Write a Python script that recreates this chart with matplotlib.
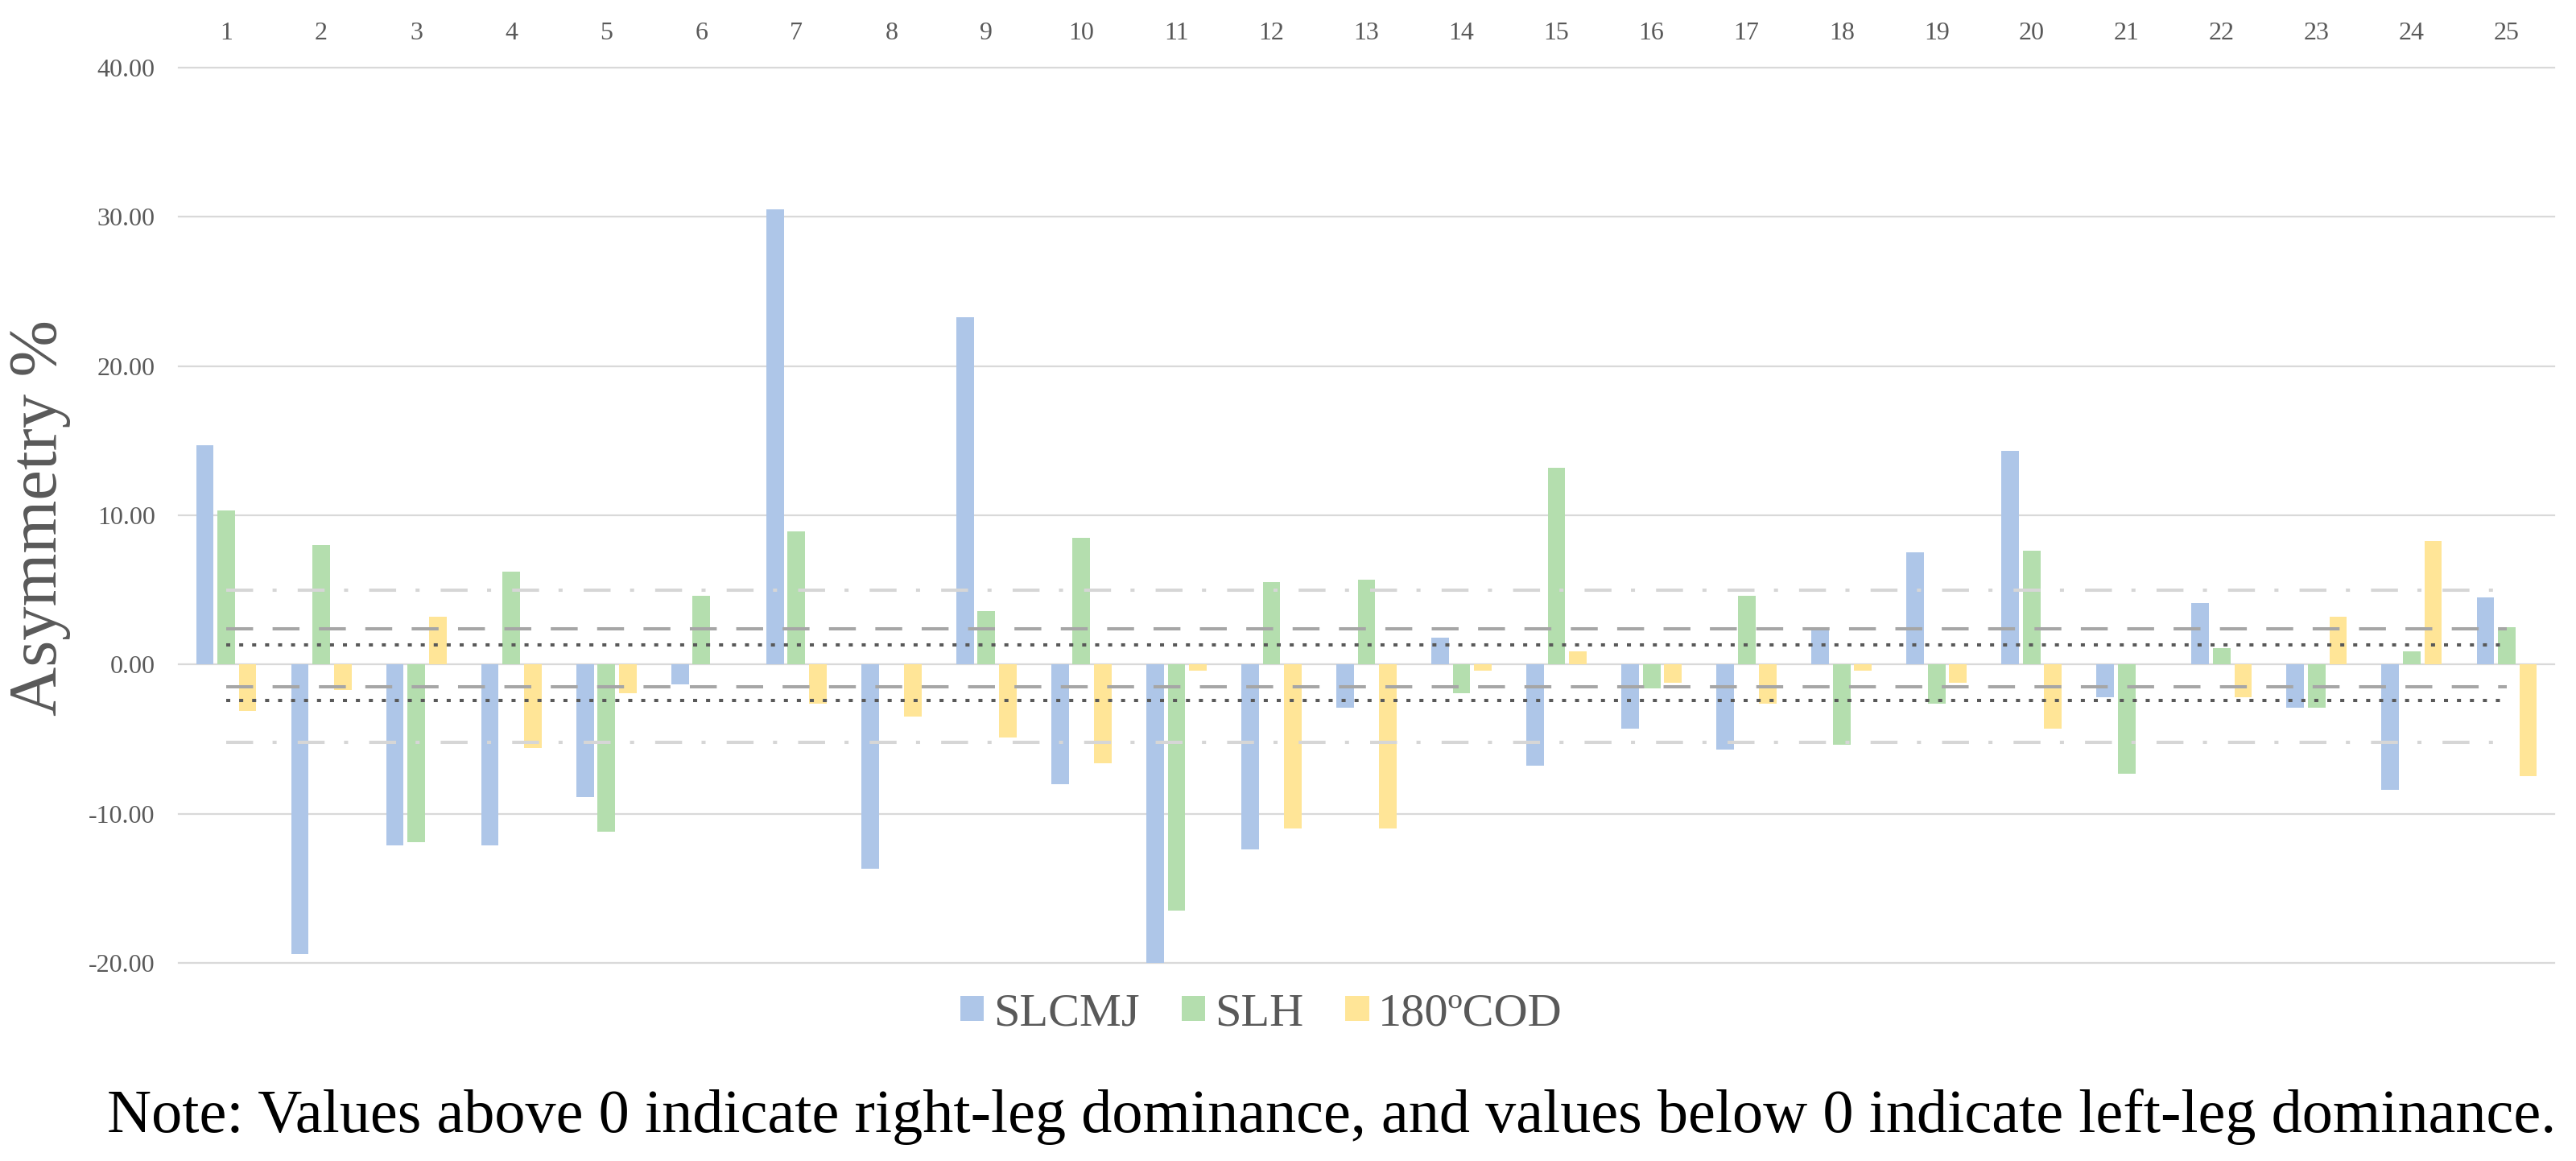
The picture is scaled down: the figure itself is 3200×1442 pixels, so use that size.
import numpy as np
import matplotlib
matplotlib.use("Agg")
import matplotlib.pyplot as plt
from matplotlib.patches import Patch

# ---------------- data ----------------
participants = [str(i) for i in range(1, 26)]
slcmj = [14.7, -19.4, -12.1, -12.1, -8.9, -1.35, 30.5, -13.7, 23.3, -8.0,
         -20.2, -12.4, -2.9, 1.8, -6.8, -4.3, -5.7, 2.4, 7.5, 14.3,
         -2.2, 4.1, -2.9, -8.4, 4.5]
slh = [10.3, 8.0, -11.9, 6.2, -11.2, 4.6, 8.9, 0.0, 3.6, 8.5,
       -16.5, 5.5, 5.7, -1.9, 13.2, -1.6, 4.6, -5.4, -2.6, 7.6,
       -7.3, 1.1, -2.9, 0.9, 2.5]
cod180 = [-3.1, -1.7, 3.2, -5.6, -1.9, 0.0, -2.6, -3.5, -4.9, -6.6,
          -0.4, -11.0, -11.0, -0.4, 0.9, -1.2, -2.6, -0.4, -1.2, -4.3,
          0.0, -2.2, 3.2, 8.3, -7.5]
series_names = ["SLCMJ", "SLH", "180ºCOD"]
# reference (threshold) lines: upper / lower values
dashdot_levels = [5.0, -5.2]
dashed_levels = [2.4, -1.5]
dotted_levels = [1.3, -2.4]
yticks = [-20, -10, 0, 10, 20, 30, 40]
note = ("Note: Values above 0 indicate right-leg dominance, and values below 0 "
        "indicate left-leg dominance.")

# ---------------- style ----------------
colors = ["#AEC6E8", "#B4DEAE", "#FFE597"]
grey_txt = "#595959"
serif = ["Liberation Serif", "DejaVu Serif"]

W, H, DPI = 3200, 1442, 100
fig = plt.figure(figsize=(W / DPI, H / DPI), dpi=DPI)
fig.patch.set_facecolor("white")

left_px, right_px = 222, 3173
top_px, bot_px = 84, 1196
ax = fig.add_axes([left_px / W, 1 - bot_px / H,
                   (right_px - left_px) / W, (bot_px - top_px) / H])

x = np.arange(1, len(participants) + 1)
bw = 0.185
offs = [-0.225, 0.0, 0.225]
for vals, off, c, name in zip([slcmj, slh, cod180], offs, colors, series_names):
    ax.bar(x + off, vals, width=bw, color=c, label=name, zorder=3)

ax.set_xlim(0.5, len(participants) + 0.5)
ax.set_ylim(-20, 40)

# grid
for yv in yticks:
    ax.axhline(yv, color="#D9D9D9", lw=1.6, zorder=1, clip_on=False)

# reference lines
lw = 2.9
def hline(level, color, dashes, z):
    ax.plot([x[0], x[-1]], [level, level], color=color, lw=lw,
            linestyle=(0, dashes), solid_capstyle="butt",
            dash_capstyle="butt", zorder=z)

for lv in dashdot_levels:
    hline(lv, "#D6D6D6", (8.3, 6.0, 1.25, 6.5), 4)
for lv in dashed_levels:
    hline(lv, "#A6A6A6", (8.3, 6.0), 5)
for lv in dotted_levels:
    hline(lv, "#595959", (1.25, 2.75), 6)

# axes styling
for s in ax.spines.values():
    s.set_visible(False)
ax.set_yticks(yticks)
ax.set_yticklabels([f"{v:.2f}" for v in yticks], fontfamily=serif,
                   fontsize=23, color=grey_txt)
ax.tick_params(axis="y", length=0, pad=21)
ax.xaxis.tick_top()
ax.set_xticks(x)
ax.set_xticklabels(participants, fontfamily=serif, fontsize=23, color=grey_txt)
ax.tick_params(axis="x", length=0, pad=20)

# y label
fig.text(50 / W, 1 - 643 / H, "Asymmetry %", rotation=90, ha="center",
         va="center", fontsize=61, color=grey_txt, family=serif)

# legend
handles = [Patch(facecolor=c, edgecolor="none") for c in colors]
fig.legend(handles, series_names, loc="center",
           bbox_to_anchor=(1567 / W, 1 - 1259 / H), ncol=3, frameon=False,
           prop={"family": serif, "size": 42}, labelcolor=grey_txt,
           handlelength=0.5, handleheight=0.45, handletextpad=0.2,
           columnspacing=0.9)

# note (fit to reference width)
t = fig.text(133 / W, 1 - 1406 / H, note, ha="left", va="baseline",
             fontsize=44, color="black", family=serif)
fig.canvas.draw()
bb = t.get_window_extent(renderer=fig.canvas.get_renderer())
target = 3173 - 133
t.set_fontsize(44 * target / bb.width)

fig.savefig("out.png", dpi=DPI, facecolor="white")
